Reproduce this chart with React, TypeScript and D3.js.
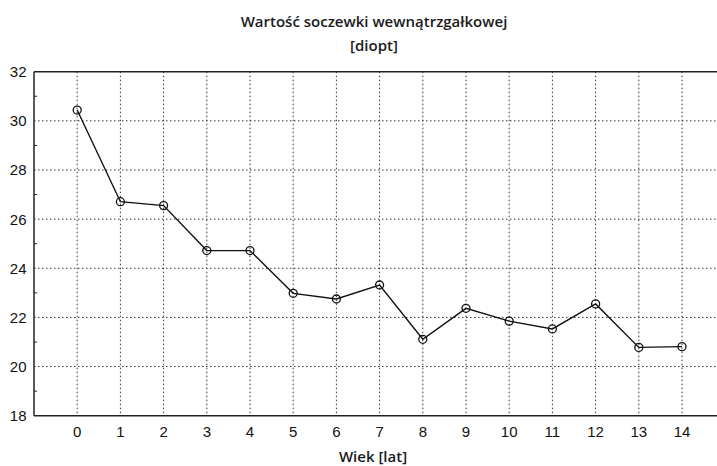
import React from "react";
import * as d3 from "d3";

const ages = [0, 1, 2, 3, 4, 5, 6, 7, 8, 9, 10, 11, 12, 13, 14];
const lensPower = [30.44, 26.71, 26.55, 24.72, 24.72, 22.98, 22.75, 23.32, 21.11, 22.37, 21.85, 21.53, 22.55, 20.78, 20.81];
const yTicks = [18, 20, 22, 24, 26, 28, 30, 32];
const yMinorTicks = [19, 21, 23, 25, 27, 29, 31];
const titleLines = ["Wartość soczewki wewnątrzgałkowej", "[diopt]"];
const xLabel = "Wiek [lat]";

export default function App() {
  const W = 717, H = 466;
  const left = 34, top = 71.7, bottom = 415.7;
  const x = d3.scaleLinear().domain([-1, 15]).range([left, left + 16 * 43.2]);
  const y = d3.scaleLinear().domain([18, 32]).range([bottom, top]);
  const line = d3.line<number>().x((_, i) => x(ages[i])).y((d) => y(d));
  const right = W;
  const tickFont = "'Liberation Sans', Arial, sans-serif";
  const titleFont = "'Open Sans', 'Noto Sans', sans-serif";
  return (
    <svg width={W} height={H} style={{ position: "absolute", left: 0, top: 0, background: "#fff" }}>
      <rect width={W} height={H} fill="#fff" />
      {ages.map((a) => (
        <line key={"gx" + a} x1={x(a)} x2={x(a)} y1={top} y2={bottom} stroke="#333" strokeWidth={1} strokeDasharray="1.5,2.5" />
      ))}
      {yTicks.slice(1, -1).map((t) => (
        <line key={"gy" + t} x1={left} x2={right} y1={y(t)} y2={y(t)} stroke="#333" strokeWidth={1} strokeDasharray="1.5,2.5" />
      ))}
      <line x1={left} x2={right} y1={top} y2={top} stroke="#222" strokeWidth={1.5} />
      <line x1={left} x2={right} y1={bottom} y2={bottom} stroke="#222" strokeWidth={1.5} />
      <line x1={left} x2={left} y1={top} y2={bottom} stroke="#222" strokeWidth={1.5} />
      {yMinorTicks.map((t) => (
        <line key={"mt" + t} x1={left} x2={left + 3} y1={y(t)} y2={y(t)} stroke="#222" strokeWidth={1} />
      ))}
      <path d={line(lensPower) || ""} fill="none" stroke="#111" strokeWidth={1.4} />
      {lensPower.map((v, i) => (
        <circle key={"p" + i} cx={x(ages[i])} cy={y(v)} r={4} fill="none" stroke="#111" strokeWidth={1.3} />
      ))}
      {yTicks.map((t) => (
        <text key={"yl" + t} x={26.5} y={y(t) + 5.5} textAnchor="end" fontFamily={tickFont} fontSize={15} fill="#111">{t}</text>
      ))}
      {ages.map((a) => (
        <text key={"xl" + a} x={x(a)} y={436.5} textAnchor="middle" fontFamily={tickFont} fontSize={15} fill="#111">{a}</text>
      ))}
      <text x={374} y={27} textAnchor="middle" fontFamily={titleFont} fontWeight={600} fontSize={15} fill="#1a1a1a">{titleLines[0]}</text>
      <text x={374} y={51} textAnchor="middle" fontFamily={titleFont} fontWeight={600} fontSize={15} fill="#1a1a1a">{titleLines[1]}</text>
      <text x={373} y={462} textAnchor="middle" fontFamily={titleFont} fontWeight={600} fontSize={15} fill="#1a1a1a">{xLabel}</text>
    </svg>
  );
}
